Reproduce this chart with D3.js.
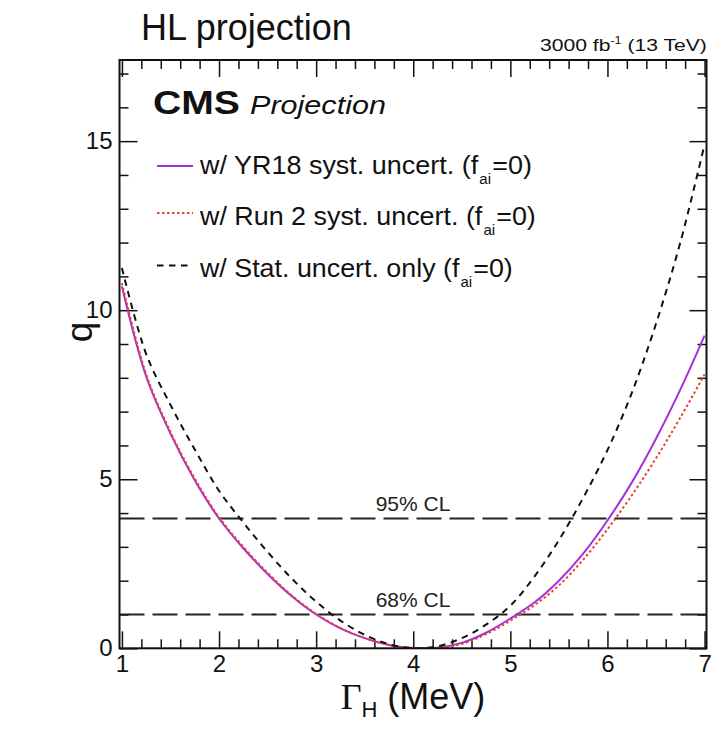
<!DOCTYPE html>
<html>
<head>
<meta charset="utf-8">
<script src="https://cdn.jsdelivr.net/npm/d3@7"></script>
<style>
  body { margin: 0; background: #fff; }
  svg { display: block; font-family: "Liberation Sans", Arial, Helvetica, sans-serif; }
</style>
</head>
<body>
<svg id="chart" width="714" height="730"></svg>
<script>
// values
var gammaH = [1.0, 1.25, 1.5, 1.75, 2.0, 2.25, 2.5, 2.75, 3.0, 3.25, 3.5, 3.75, 4.0,
              4.25, 4.5, 4.75, 5.0, 5.25, 5.5, 5.75, 6.0, 6.25, 6.5, 6.75, 7.0];
var qYR18 = [10.7, 8.04, 6.35, 4.97, 3.84, 2.96, 2.2, 1.54, 1.0, 0.59, 0.3, 0.1, 0.01,
             0.02, 0.16, 0.46, 0.88, 1.36, 2.0, 2.8, 3.78, 4.9, 6.2, 7.65, 9.25];
var qRun2 = [10.8, 8.1, 6.4, 5.02, 3.88, 3.0, 2.23, 1.56, 1.02, 0.6, 0.3, 0.1, 0.01,
             0.01, 0.13, 0.42, 0.82, 1.28, 1.86, 2.62, 3.52, 4.52, 5.62, 6.82, 8.1];
var qStat = [11.25, 8.7, 7.2, 5.88, 4.66, 3.72, 2.85, 2.06, 1.38, 0.82, 0.4, 0.12, 0.0,
             0.06, 0.3, 0.7, 1.26, 2.13, 3.2, 4.45, 5.86, 7.55, 9.6, 12.0, 14.9];

var clLevels = [3.84, 1.0];
var clLabels = ["95% CL", "68% CL"];

var legendLabels = ["w/ YR18 syst. uncert. (f", "w/ Run 2 syst. uncert. (f", "w/ Stat. uncert. only (f"];
var legendSub = "ai";
var legendTail = "=0)";

var xMajorTicks = [1, 2, 3, 4, 5, 6, 7];
var yMajorTicks = [0, 5, 10, 15];

var svg = d3.select("#chart");

// frame edges (pixels)
var frameL = 119.5, frameR = 706.5, frameT = 60, frameB = 648.3;

var x = d3.scaleLinear().domain([0.975, 7.02]).range([frameL, frameR]);
var y = d3.scaleLinear().domain([0, 17.4]).range([frameB, frameT]);

var xMinor = d3.range(1, 7.01, 0.2).map(d => +d.toFixed(1)).filter(d => xMajorTicks.indexOf(d) < 0);
var yMinor = d3.range(0, 17.1, 1).filter(d => yMajorTicks.indexOf(d) < 0);

// stretch a text node horizontally so it covers a given width
function fitWidth(node, x0, width) {
  var w = node.getBBox().width;
  node.setAttribute("transform",
    "translate(" + x0 + ",0) scale(" + (width / w) + ",1) translate(" + (-x0) + ",0)");
}

svg.append("defs").append("clipPath").attr("id", "frameClip")
  .append("rect")
  .attr("x", frameL).attr("y", frameT)
  .attr("width", frameR - frameL).attr("height", frameB - frameT);

// axes with inward ticks
function styleAxis(g) {
  g.select(".domain").remove();
  g.selectAll(".tick line").attr("stroke", "#111").attr("stroke-width", 1.5);
  g.selectAll(".tick text").attr("fill", "#111")
    .style("font-family", "Liberation Sans, Arial, sans-serif").style("font-size", "24px");
}

svg.append("g").attr("transform", "translate(0," + frameB + ")")
  .call(d3.axisBottom(x).tickValues(xMajorTicks).tickSize(-17).tickPadding(7).tickFormat(d3.format("d")))
  .call(styleAxis);
svg.append("g").attr("transform", "translate(0," + frameB + ")")
  .call(d3.axisBottom(x).tickValues(xMinor).tickSize(-9).tickFormat(""))
  .call(styleAxis);
svg.append("g").attr("transform", "translate(0," + frameT + ")")
  .call(d3.axisTop(x).tickValues(xMajorTicks).tickSize(-17).tickFormat(""))
  .call(styleAxis);
svg.append("g").attr("transform", "translate(0," + frameT + ")")
  .call(d3.axisTop(x).tickValues(xMinor).tickSize(-9).tickFormat(""))
  .call(styleAxis);

svg.append("g").attr("transform", "translate(" + frameL + ",0)")
  .call(d3.axisLeft(y).tickValues(yMajorTicks).tickSize(-18).tickPadding(7).tickFormat(d3.format("d")))
  .call(styleAxis);
svg.append("g").attr("transform", "translate(" + frameL + ",0)")
  .call(d3.axisLeft(y).tickValues(yMinor).tickSize(-9).tickFormat(""))
  .call(styleAxis);
svg.append("g").attr("transform", "translate(" + frameR + ",0)")
  .call(d3.axisRight(y).tickValues(yMajorTicks).tickSize(-17).tickFormat(""))
  .call(styleAxis);
svg.append("g").attr("transform", "translate(" + frameR + ",0)")
  .call(d3.axisRight(y).tickValues(yMinor).tickSize(-9).tickFormat(""))
  .call(styleAxis);

// CL lines
var clG = svg.append("g").attr("clip-path", "url(#frameClip)");
clG.selectAll("line").data(clLevels).enter().append("line")
  .attr("x1", frameL).attr("x2", frameR)
  .attr("y1", d => y(d)).attr("y2", d => y(d))
  .attr("stroke", "#222").attr("stroke-width", 2)
  .attr("stroke-dasharray", "25,8");

svg.selectAll(".cl-label").data(clLevels).enter().append("text")
  .attr("class", "cl-label")
  .attr("x", (frameL + frameR) / 2)
  .attr("y", d => y(d) - 7.5)
  .attr("text-anchor", "middle")
  .style("font-size", "21px")
  .attr("fill", "#222")
  .text((d, i) => clLabels[i]);

// curves
var series = [
  { values: qYR18, color: "#a52fdc", dash: null },
  { values: qRun2, color: "#e8442c", dash: "2.5,2.5" },
  { values: qStat, color: "#111", dash: "6.5,5.5" }
];

var line = d3.line()
  .x((d, i) => x(gammaH[i]))
  .y(d => y(d))
  .curve(d3.curveCatmullRom.alpha(0.5));

var curveG = svg.append("g").attr("clip-path", "url(#frameClip)");
curveG.selectAll("path").data(series).enter().append("path")
  .attr("d", d => line(d.values))
  .attr("fill", "none")
  .attr("stroke", d => d.color)
  .attr("stroke-width", 2)
  .attr("stroke-dasharray", d => d.dash);

// frame
svg.append("rect")
  .attr("x", frameL).attr("y", frameT)
  .attr("width", frameR - frameL).attr("height", frameB - frameT)
  .attr("fill", "none").attr("stroke", "#111").attr("stroke-width", 2);

// legend
var legendY = [166, 213, 265.5];
var legendBase = [174, 225, 277];
var legendEnd = [533, 537, 514];

var leg = svg.append("g");
series.forEach(function (s, i) {
  leg.append("line")
    .attr("x1", 157).attr("x2", 193)
    .attr("y1", legendY[i]).attr("y2", legendY[i])
    .attr("stroke", s.color).attr("stroke-width", 2)
    .attr("stroke-dasharray", s.dash);
  var t = leg.append("text")
    .attr("x", 200).attr("y", legendBase[i])
    .attr("fill", "#111")
    .style("font-size", "25px");
  t.append("tspan").text(legendLabels[i]);
  t.append("tspan").attr("dx", 1).attr("dy", 10).style("font-size", "14px").text(legendSub);
  t.append("tspan").attr("dx", 1).attr("dy", -10).text(legendTail);
  fitWidth(t.node(), 200, legendEnd[i] - 200);
});

// CMS label
var cms = svg.append("text")
  .attr("x", 153).attr("y", 114)
  .attr("fill", "#111")
  .style("font-size", "33px").style("font-weight", "bold")
  .text("CMS");
fitWidth(cms.node(), 153, 87);
var proj = svg.append("text")
  .attr("x", 250).attr("y", 114)
  .attr("fill", "#111")
  .style("font-size", "25px").style("font-style", "italic")
  .text("Projection");
fitWidth(proj.node(), 250, 136);

// titles
svg.append("text")
  .attr("x", 141).attr("y", 40)
  .attr("fill", "#111")
  .style("font-size", "36px")
  .text("HL projection");

var lumi = svg.append("text")
  .attr("x", 540).attr("y", 51)
  .attr("fill", "#111")
  .style("font-size", "17px");
lumi.append("tspan").text("3000 fb");
lumi.append("tspan").attr("dy", -7).style("font-size", "10px").text("-1");
lumi.append("tspan").attr("dy", 7).text(" (13 TeV)");
fitWidth(lumi.node(), 540, 167);

// axis titles
var xt = svg.append("text")
  .attr("x", (frameL + frameR) / 2).attr("y", 709)
  .attr("text-anchor", "middle")
  .attr("fill", "#111")
  .style("font-size", "36px");
xt.append("tspan").style("font-family", "Liberation Serif, DejaVu Serif, serif").text("\u0393");
xt.append("tspan").attr("dy", 8).style("font-size", "22px").text("H");
xt.append("tspan").attr("dy", -8).text(" (MeV)");

svg.append("text")
  .attr("transform", "translate(92,332) rotate(-90)")
  .attr("text-anchor", "middle")
  .attr("fill", "#111")
  .style("font-size", "37px")
  .text("q");
</script>
</body>
</html>
